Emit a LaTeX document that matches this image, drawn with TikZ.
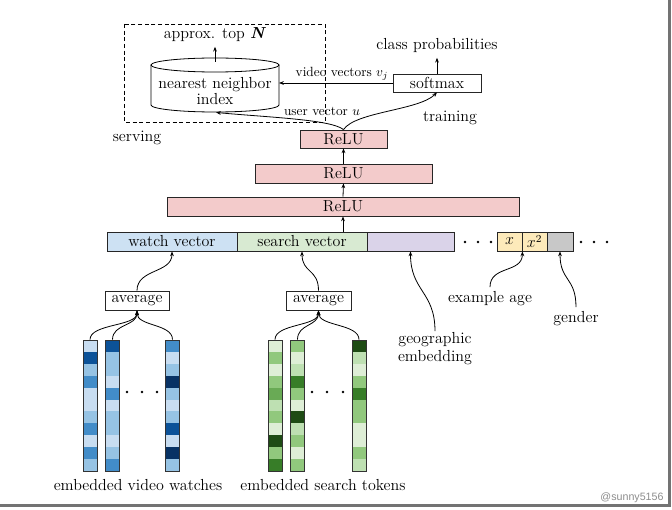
\documentclass[tikz,border=0pt]{standalone}
\usepackage{fontspec}
\usetikzlibrary{arrows.meta,calc}
\newfontfamily\wmfont{Liberation Sans}
\definecolor{bL}{RGB}{200,221,241}
\definecolor{bM}{RGB}{150,195,228}
\definecolor{bD}{RGB}{66,140,200}
\definecolor{bDD}{RGB}{12,82,152}
\definecolor{bX}{RGB}{8,50,100}
\definecolor{gL}{RGB}{222,238,214}
\definecolor{gL2}{RGB}{190,224,178}
\definecolor{gM}{RGB}{145,200,125}
\definecolor{gM2}{RGB}{105,170,85}
\definecolor{gD}{RGB}{55,125,40}
\definecolor{gX}{RGB}{30,75,20}
\definecolor{watchc}{RGB}{205,225,243}
\definecolor{searchc}{RGB}{216,234,210}
\definecolor{geoc}{RGB}{218,211,233}
\definecolor{agec}{RGB}{253,234,186}
\definecolor{genc}{RGB}{200,200,200}
\definecolor{reluc}{RGB}{243,203,203}
\tikzset{
  box/.style={draw=black!85, line width=0.6pt, inner sep=0pt, anchor=center},
  colbox/.style={draw=black!80, line width=0.6pt, inner sep=0pt, minimum width=10.5pt, minimum height=98.25pt},
  arr/.style={line width=0.6pt, -{Stealth[length=3.6pt,width=2.8pt]}},
  small/.style={font=\fontsize{10}{11}\selectfont},
}
\begin{document}
\begin{tikzpicture}[x=0.75pt,y=-0.75pt,font=\fontsize{12}{14}\selectfont]
\useasboundingbox (0,0) rectangle (672,510);
% frame shadow
\draw[black!55, line width=1.6pt] (0,505.5) -- (669.5,505.5) -- (669.5,0);
\node[font=\wmfont\fontsize{8}{9}\selectfont, text=black!45] (wm) at (632,498) {@sunny5156};

% serving box
\draw[dashed, dash pattern=on 3pt off 2pt, line width=0.6pt] (124,24) rectangle (325,122);
\node (serving) at (137,138) {serving};
\node (training) at (450,118) {training};

% cylinder
\draw[line width=0.6pt, fill=white] (151,65) -- (151,105) arc[start angle=180, end angle=360, x radius=48pt, y radius=5.25pt] -- (279,65);
\draw[line width=0.6pt] (215,65) ellipse [x radius=48pt, y radius=5.25pt];
\node[align=center, inner sep=0pt, font=\fontsize{12}{12.5}\selectfont] (nn) at (215,91) {nearest neighbor\\index};
\coordinate (cyltop) at (215,62);
\coordinate (cylbot) at (216,112.5);
\coordinate (cylright) at (279,83);
\node (topN) at (215,35) {approx. top \textbf{\textit{N}}};
\draw[arr] (cyltop) -- (topN.south);

% softmax
\node[box, minimum width=66pt, minimum height=13.5pt] (softmax) at (437,83) {softmax};
\node (cp) at (437,46) {class probabilities};
\draw[arr] (softmax.north) -- (cp.south);
\draw[arr] (softmax.west) -- (cylright);
\node[small] (vvl) at (342,74) {video vectors $v_j$};
\node[small] (uvl) at (322,111) {user vector $u$};

% ReLU layers
\node[box, fill=reluc, minimum width=65.25pt, minimum height=13.5pt] (relu3) at (343.5,139) {ReLU};
\node[box, fill=reluc, minimum width=132.75pt, minimum height=14.25pt] (relu2) at (343.5,173.5) {ReLU};
\node[box, fill=reluc, minimum width=264pt, minimum height=14.25pt] (relu1) at (343,206.5) {ReLU};
\draw[arr] (relu2.north) -- (relu3.south);
\draw[arr] (relu1.north) -- (relu2.south);
\draw[arr] (relu3.north) .. controls +(-12,-10) and +(55,5) .. (cylbot);
\draw[arr] (relu3.north) .. controls +(12,-18) and +(-18,18) .. (softmax.south);

% concatenated input row
\node[box, fill=watchc, minimum width=97.5pt, minimum height=14.25pt] (watch) at (172,241.5) {watch vector};
\node[box, fill=searchc, minimum width=97.5pt, minimum height=14.25pt] (search) at (302,241.5) {search vector};
\node[box, fill=geoc, minimum width=65.25pt, minimum height=14.25pt] (geo) at (410.5,241.5) {};
\node[box, fill=agec, minimum width=18.75pt, minimum height=14.25pt] (xb) at (509.5,241.5) {$x$};
\node[box, fill=agec, minimum width=18.75pt, minimum height=14.25pt] (xxb) at (534.5,241.5) {$x^2$};
\node[box, fill=genc, minimum width=19.5pt, minimum height=14.25pt] (gb) at (560,241.5) {};
\draw[arr] (search.north -| relu1.south) -- (relu1.south);
\foreach \dx in {465,478,491,581,594,607} \fill (\dx,242) circle (1.1pt);

% feature labels
\node[align=center, inner sep=1pt, font=\fontsize{12}{13.5}\selectfont] (geol) at (435,349) {geographic\\embedding};
\node (agel) at (490,299) {example age};
\node (genl) at (576,319) {gender};
\draw[arr] (geol.north) .. controls +(0,-40) and +(0,40) .. (geo.south);
\draw[arr] (agel.north) .. controls +(0,-22) and +(0,22) .. (xb.south east);
\draw[arr] (genl.north) .. controls +(0,-30) and +(0,30) .. (gb.south);

% averages
\node[box, minimum width=48pt, minimum height=14.25pt] (avg1) at (137,300.5) {average};
\node[box, minimum width=48.75pt, minimum height=14.25pt] (avg2) at (318.5,300.5) {average};
\draw[arr] (avg1.north) .. controls +(0,-22) and +(0,22) .. (watch.south);
\draw[arr] (avg2.north) .. controls +(0,-22) and +(0,22) .. (search.south);

% embedding columns
\foreach \cx/\nm/\clist in {
  90/b1/{bL,bDD,bM,bD,bL,bL,bM,bD,bL,bD,bM},
  112.5/b2/{bDD,bM,bM,bL,bD,bL,bM,bM,bL,bM,bD},
  172.5/b3/{bD,bL,bM,bX,bM,bL,bM,bDD,bL,bX,bM},
  275/g1/{gL,gM,gL,gM,gM2,gL2,gM,gL,gX,gM,gD},
  297.5/g2/{gM,gL,gL2,gD,gM,gL,gX,gL2,gM,gL,gM},
  359/g3/{gX,gL2,gL,gM,gD,gM,gM,gL,gL,gM,gL2}}{
  \foreach \c [count=\k] in \clist {
    \fill[\c] ({\cx-7},{340+(\k-1)*11.91}) rectangle ({\cx+7},{340+\k*11.91});
  }
  \node[colbox] (\nm) at (\cx,405.5) {};
}
\foreach \dx in {127,142,157,312,327,343} \fill (\dx,392) circle (1.1pt);
\foreach \c/\a in {b1/avg1,b2/avg1,b3/avg1,g1/avg2,g2/avg2,g3/avg2}
  \draw[arr] (\c.north) .. controls +(0,-16) and +(0,16) .. (\a.south);

\node (ew) at (138,485) {embedded video watches};
\node (es) at (323,485) {embedded search tokens};
\end{tikzpicture}
\end{document}
